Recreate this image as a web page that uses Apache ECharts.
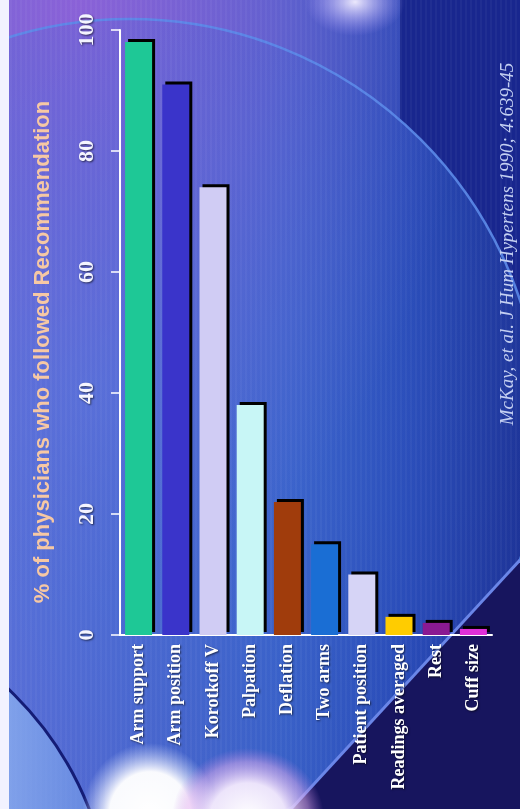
<!DOCTYPE html>
<html>
<head>
<meta charset="utf-8">
<script src="https://cdn.jsdelivr.net/npm/echarts@6/dist/echarts.min.js"></script>
<style>
html,body{margin:0;padding:0;width:520px;height:809px;overflow:hidden;background:#3a5cc4;}
#bgsvg{position:absolute;left:0;top:0;}
#chart{position:absolute;left:0;top:0;width:520px;height:809px;}
</style>
</head>
<body>
<svg id="bgsvg" width="520" height="809" xmlns="http://www.w3.org/2000/svg">
  <defs>
    <linearGradient id="base" x1="0" y1="0" x2="1" y2="0">
      <stop offset="0" stop-color="#6270d8"/>
      <stop offset="0.3" stop-color="#4c66cc"/>
      <stop offset="0.55" stop-color="#3a60c6"/>
      <stop offset="0.78" stop-color="#2848b4"/>
      <stop offset="1" stop-color="#1c2f92"/>
    </linearGradient>
    <radialGradient id="purple" cx="0.15" cy="0" r="0.75">
      <stop offset="0" stop-color="#9060d8" stop-opacity="0.9"/>
      <stop offset="0.5" stop-color="#8460d6" stop-opacity="0.55"/>
      <stop offset="1" stop-color="#7060d0" stop-opacity="0"/>
    </radialGradient>
    <radialGradient id="circ" cx="0.45" cy="0.45" r="0.6">
      <stop offset="0" stop-color="#4a7ae0" stop-opacity="0.45"/>
      <stop offset="0.6" stop-color="#3a6ad6" stop-opacity="0.25"/>
      <stop offset="1" stop-color="#2a58c8" stop-opacity="0.1"/>
    </radialGradient>
    <radialGradient id="glow1" cx="0.5" cy="0.5" r="0.5">
      <stop offset="0" stop-color="#ffffff" stop-opacity="1"/>
      <stop offset="0.6" stop-color="#ffffff" stop-opacity="0.97"/>
      <stop offset="1" stop-color="#d8e0ff" stop-opacity="0"/>
    </radialGradient>
    <radialGradient id="glow2" cx="0.5" cy="0.5" r="0.5">
      <stop offset="0" stop-color="#ffffff" stop-opacity="1"/>
      <stop offset="0.5" stop-color="#fbefff" stop-opacity="0.92"/>
      <stop offset="0.8" stop-color="#e6b0f0" stop-opacity="0.5"/>
      <stop offset="1" stop-color="#c080e0" stop-opacity="0"/>
    </radialGradient>
    <radialGradient id="glow3" cx="0.5" cy="0.5" r="0.5">
      <stop offset="0" stop-color="#f4f0ff" stop-opacity="0.95"/>
      <stop offset="1" stop-color="#b0a0ff" stop-opacity="0"/>
    </radialGradient>
    <linearGradient id="leftlight" x1="0" y1="0" x2="1" y2="0">
      <stop offset="0" stop-color="#8cb0f0" stop-opacity="0.8"/>
      <stop offset="1" stop-color="#6c94e6" stop-opacity="0.6"/>
    </linearGradient>
    <pattern id="stripes" width="5" height="10" patternUnits="userSpaceOnUse">
      <rect x="0" y="0" width="2" height="10" fill="#ffffff" fill-opacity="0.035"/>
    </pattern>
    <clipPath id="leftclip"><circle cx="-220" cy="930" r="332"/></clipPath>
    <mask id="outside">
      <rect x="0" y="0" width="520" height="809" fill="#fff"/>
      <circle cx="130" cy="430" r="411" fill="#000"/>
    </mask>
  </defs>
  <rect x="0" y="0" width="520" height="809" fill="url(#base)"/>
  <rect x="0" y="0" width="520" height="809" fill="url(#purple)"/>
  <rect x="400" y="0" width="120" height="520" fill="#18268e" mask="url(#outside)"/>
  <circle cx="130" cy="430" r="411" fill="url(#circ)" stroke="#5a88e8" stroke-width="2.5" stroke-opacity="0.9"/>
  <rect x="0" y="0" width="520" height="809" fill="url(#stripes)"/>
  <polygon points="291,809 520,560 520,809" fill="#17155e"/>
  <line x1="291" y1="809" x2="520" y2="560" stroke="#6a86e8" stroke-width="3"/>
  <rect x="0" y="560" width="120" height="249" fill="url(#leftlight)" clip-path="url(#leftclip)"/>
  <circle cx="-220" cy="930" r="332" fill="none" stroke="#141c76" stroke-width="3"/>
  <ellipse cx="150" cy="815" rx="68" ry="72" fill="url(#glow1)"/>
  <ellipse cx="248" cy="818" rx="76" ry="70" fill="url(#glow2)"/>
  <ellipse cx="355" cy="2" rx="50" ry="34" fill="url(#glow3)"/>
  <rect x="0" y="0" width="9" height="809" fill="#f2f2ff"/>
</svg>
<div id="chart"></div>
<script>
var categories = ["Arm support","Arm position","Korotkoff V","Palpation","Deflation","Two arms","Patient position","Readings averaged","Rest","Cuff size"];
var values = [98, 91, 74, 38, 22, 15, 10, 3, 2, 1];
var barColors = ["#1ec896","#3a34ca","#d0ccf4","#c8f6f6","#a03c0c","#1a6ed4","#d6d4f6","#ffcc00","#8a1a92","#e030d8"];
var yTicks = [0, 20, 40, 60, 80, 100];
var titleText = "% of physicians who followed Recommendation";
var citation = "McKay, et al. J Hum Hypertens 1990; 4:639-45";

var chart = echarts.init(document.getElementById('chart'), null, {renderer:'canvas'});
var option = {
  backgroundColor: 'transparent',
  animation: false,
  grid: {left:120, right:28, top:30, bottom:174, containLabel:false},
  xAxis: {
    type:'category', data:categories,
    axisLine:{show:true, lineStyle:{color:'#ffffff', width:2}},
    axisTick:{show:false},
    axisLabel:{rotate:90, margin:9, color:'#ffffff', fontFamily:'Liberation Serif', fontWeight:'bold', fontSize:18,
      textShadowColor:'rgba(0,0,0,0.6)', textShadowBlur:2, textShadowOffsetX:1, textShadowOffsetY:1},
    splitLine:{show:false}
  },
  yAxis: {
    type:'value', min:yTicks[0], max:yTicks[yTicks.length-1], interval:yTicks[1]-yTicks[0],
    axisLine:{show:true, lineStyle:{color:'#ffffff', width:2}},
    axisTick:{show:true, length:9, lineStyle:{color:'#ffffff', width:1.5}},
    axisLabel:{rotate:90, margin:22, color:'#f4f4ff', fontFamily:'Liberation Serif', fontWeight:'bold', fontSize:22,
      textShadowColor:'rgba(0,0,0,0.6)', textShadowBlur:2, textShadowOffsetX:1, textShadowOffsetY:1},
    splitLine:{show:false}
  },
  series: [{
    type:'bar', barWidth:27,
    data: values.map(function(v,i){ return {value:v, itemStyle:{color:barColors[i]}}; }),
    itemStyle:{shadowColor:'#000000', shadowBlur:0.01, shadowOffsetX:3, shadowOffsetY:-3}
  }],
  graphic: [
    {type:'text', x:43, y:352, rotation:Math.PI/2,
     style:{text:titleText, fill:'#f6c8a4', font:'bold 22px "Liberation Sans", Arial, sans-serif', textAlign:'center', textVerticalAlign:'middle',
       shadowColor:'rgba(0,0,0,0.5)', shadowBlur:2, shadowOffsetX:1, shadowOffsetY:1}},
    {type:'text', x:508, y:244, rotation:Math.PI/2,
     style:{text:citation, fill:'#c4d0f2', font:'italic 19px "Liberation Serif", serif', textAlign:'center', textVerticalAlign:'middle'}}
  ]
};
chart.setOption(option);
</script>
</body>
</html>
